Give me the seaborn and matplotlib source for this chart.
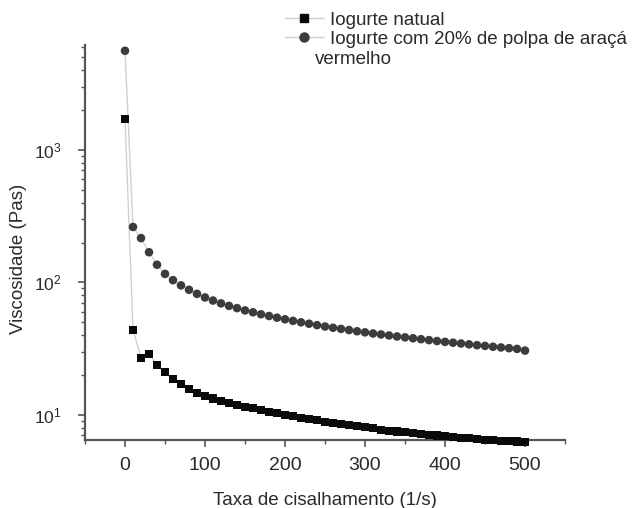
import numpy as np
import pandas as pd
import matplotlib
matplotlib.use("Agg")
import matplotlib.pyplot as plt
from matplotlib.lines import Line2D
from matplotlib.ticker import LogLocator, MultipleLocator, LogFormatterMathtext, NullFormatter
import seaborn as sns

shear_rate = list(range(0, 501, 10))

iogurte_natural = [
    1714, 44, 27, 29, 24, 21, 18.6, 17, 15.7, 14.6,
    13.9, 13.3, 12.8, 12.3, 11.9, 11.5, 11.2, 10.9, 10.6, 10.3,
    10.0, 9.75, 9.5, 9.3, 9.1, 8.9, 8.7, 8.55, 8.4, 8.25,
    8.1, 7.95, 7.75, 7.6, 7.5, 7.4, 7.3, 7.2, 7.1, 7.0,
    6.9, 6.82, 6.74, 6.66, 6.58, 6.5, 6.45, 6.4, 6.35, 6.3,
    6.25,
]

iogurte_araca = [
    5600, 262, 216, 169, 136, 116, 104, 95, 88, 82,
    77, 73, 69.5, 66.5, 64, 61.5, 59.5, 57.5, 55.8, 54.2,
    52.7, 51.3, 50, 48.8, 47.6, 46.5, 45.5, 44.6, 43.7, 42.8,
    42, 41.2, 40.5, 39.8, 39.1, 38.5, 37.9, 37.3, 36.7, 36.1,
    35.6, 35.1, 34.6, 34.1, 33.6, 33.2, 32.7, 32.3, 31.9, 31.5,
    30.6,
]

labels = ["Iogurte natual", "Iogurte com 20% de polpa de araçá"]
x_ticks = [0, 100, 200, 300, 400, 500]

sns.set_theme(style="white")
plt.rcParams["font.family"] = ["Liberation Sans", "DejaVu Sans"]
text_color = "#2a2a2a"

fig = plt.figure(figsize=(6.36, 5.08), dpi=100)
ax = fig.add_axes([85 / 636, 68 / 508, 480 / 636, 395 / 508])

df1 = pd.DataFrame({"x": shear_rate, "y": iogurte_natural})
df2 = pd.DataFrame({"x": shear_rate, "y": iogurte_araca})

line_color = "#d0d0d0"
sns.lineplot(data=df1, x="x", y="y", ax=ax, color=line_color, linewidth=1.0, zorder=1)
sns.lineplot(data=df2, x="x", y="y", ax=ax, color=line_color, linewidth=1.0, zorder=1)
sns.scatterplot(data=df1, x="x", y="y", ax=ax, marker="s", s=34, color="#0a0a0a",
                edgecolor="none", zorder=3, clip_on=False)
sns.scatterplot(data=df2, x="x", y="y", ax=ax, marker="o", s=38, color="#3c3c3c",
                edgecolor="none", zorder=3, clip_on=False)

ax.set_yscale("log")
ax.set_xlim(-50, 550)
ax.set_ylim(6.47, 6190)
ax.set_xticks(x_ticks)
ax.xaxis.set_minor_locator(MultipleLocator(50))
ax.yaxis.set_major_locator(LogLocator(base=10, numticks=10))
ax.yaxis.set_minor_locator(LogLocator(base=10, subs=np.arange(2, 10), numticks=20))
ax.yaxis.set_major_formatter(LogFormatterMathtext())
ax.yaxis.set_minor_formatter(NullFormatter())

for side in ["top", "right"]:
    ax.spines[side].set_visible(False)
for side in ["left", "bottom"]:
    ax.spines[side].set_color("#555555")
    ax.spines[side].set_linewidth(1.6)

ax.tick_params(axis="both", which="both", bottom=True, left=True, top=False, right=False)
ax.tick_params(axis="both", which="major", direction="out", length=5, width=1.2,
               colors="#555555", labelcolor=text_color)
ax.tick_params(axis="both", which="minor", direction="out", length=3, width=1.0,
               colors="#555555")
ax.tick_params(axis="x", which="major", pad=7, labelsize=14)
ax.tick_params(axis="y", which="major", pad=12, labelsize=12.5)

ax.set_xlabel("Taxa de cisalhamento (1/s)", fontsize=13.5, color=text_color, labelpad=13)
ax.set_ylabel("Viscosidade (Pas)", fontsize=13.5, color=text_color)
ax.yaxis.set_label_coords(-0.121, 0.458)

handles = [
    Line2D([0], [0], color=line_color, linewidth=1.0, marker="s", markersize=6,
           markerfacecolor="#0a0a0a", markeredgecolor="#0a0a0a"),
    Line2D([0], [0], color=line_color, linewidth=1.0, marker="o", markersize=6.5,
           markerfacecolor="#3c3c3c", markeredgecolor="#3c3c3c"),
]
leg = fig.legend(handles, labels, loc="upper left", bbox_to_anchor=(277 / 636, 1 - 4 / 508),
                 frameon=False, fontsize=13.5, handlelength=2.1, handletextpad=0.3,
                 labelspacing=0.12, borderaxespad=0)
for t in leg.get_texts():
    t.set_color(text_color)
fig.text(315 / 636, 1 - 60 / 508, "vermelho", fontsize=13.5, color=text_color,
         va="center", ha="left")

fig.savefig("out.png", dpi=100)
